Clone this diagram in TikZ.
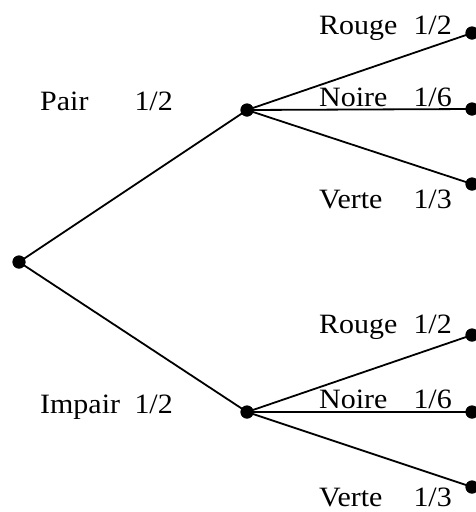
\documentclass[tikz,border=0pt]{standalone}
\usepackage{fontspec}
\setmainfont{Liberation Serif}
\begin{document}
\begin{tikzpicture}[x=1pt,y=-1pt,
  dot/.style={circle,fill=black,inner sep=0pt,minimum size=13pt},
  edge/.style={line width=1.8pt},
  lbl/.style={inner sep=0pt,font=\fontsize{28}{30}\selectfont,xscale=1.07}]
\useasboundingbox (0,0) rectangle (476,512);
% tree nodes
\node[dot] (r) at (19,262) {};
\node[dot] (p) at (247,110) {};
\node[dot] (i) at (247,412) {};
\node[dot] (p1) at (472,33) {};
\node[dot] (p2) at (472,109) {};
\node[dot] (p3) at (472,184) {};
\node[dot] (i1) at (472,335) {};
\node[dot] (i2) at (472,412) {};
\node[dot] (i3) at (472,487) {};
% branches
\draw[edge] (r.center) -- (p.center);
\draw[edge] (r.center) -- (i.center);
\foreach \m/\a/\b/\c in {p/p1/p2/p3,i/i1/i2/i3}{
  \draw[edge] (\m.center) -- (\a.center);
  \draw[edge] (\m.center) -- (\b.center);
  \draw[edge] (\m.center) -- (\c.center);
}
% redraw dots on top of branches
\foreach \n in {r,p,i,p1,p2,p3,i1,i2,i3}{\fill (\n) circle (6.5pt);}
% labels
\node[lbl,anchor=base west] (lpair) at (40,110) {Pair};
\node[lbl,anchor=base east] (lpairp) at (173,110) {1/2};
\node[lbl,anchor=base west] (limp) at (40,413) {Impair};
\node[lbl,anchor=base east] (limpp) at (173,413) {1/2};
\foreach \y/\w/\f [count=\k] in {34/Rouge/1\slash2,106/Noire/1\slash6,208/Verte/1\slash3,333/Rouge/1\slash2,408/Noire/1\slash6,506/Verte/1\slash3}{
  \node[lbl,anchor=base west] (w\k) at (319,\y) {\w};
  \node[lbl,anchor=base east] (f\k) at (452,\y) {\f};
}
\end{tikzpicture}
\end{document}
